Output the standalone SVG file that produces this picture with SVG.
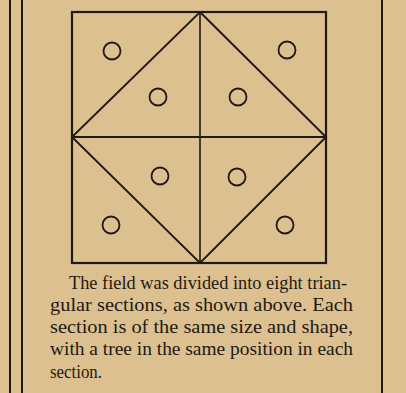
<svg xmlns="http://www.w3.org/2000/svg" width="406" height="393" viewBox="0 0 406 393">
<style>
.ln{stroke:#1f1a14;fill:none}
.tree{stroke:#1f1a14;stroke-width:1.8;fill:none}
.cap{font-family:"Liberation Serif",serif;font-size:19px;fill:#1f1a14}
</style>
<rect width="406" height="393" fill="#dcc08f"/>
<g id="rules">
<line class="ln" x1="10" y1="0" x2="10" y2="393" stroke-width="2"/>
<line class="ln" x1="22" y1="0" x2="22" y2="393" stroke-width="2"/>
<line class="ln" x1="382" y1="0" x2="382" y2="393" stroke-width="2"/>
</g>
<g id="connectors">
<rect class="ln" x="72" y="12" width="254" height="251" stroke-width="2.2"/>
<line class="ln" x1="72" y1="137" x2="326" y2="137" stroke-width="2"/>
<line class="ln" x1="200" y1="12" x2="200" y2="263" stroke-width="1.6"/>
<polygon class="ln" points="200,12 326,137 200,263 72,137" stroke-width="1.9"/>
</g>
<g id="trees">
<circle id="t1" class="tree" cx="112" cy="51" r="8.5"/>
<circle id="t2" class="tree" cx="158" cy="97" r="8.5"/>
<circle id="t3" class="tree" cx="238" cy="97" r="8.5"/>
<circle id="t4" class="tree" cx="287" cy="50" r="8.5"/>
<circle id="t5" class="tree" cx="160" cy="176" r="8.5"/>
<circle id="t6" class="tree" cx="237" cy="177" r="8.5"/>
<circle id="t7" class="tree" cx="111" cy="225" r="8.5"/>
<circle id="t8" class="tree" cx="285" cy="225" r="8.5"/>
</g>
<g id="caption" class="cap">
<text x="69" y="289" textLength="278" lengthAdjust="spacingAndGlyphs">The field was divided into eight trian-</text>
<text x="50" y="311" textLength="303" lengthAdjust="spacingAndGlyphs">gular sections, as shown above.  Each</text>
<text x="50" y="333" textLength="303" lengthAdjust="spacingAndGlyphs">section is of the same size and shape,</text>
<text x="50" y="355" textLength="303" lengthAdjust="spacingAndGlyphs">with a tree in the same position in each</text>
<text x="50" y="378" textLength="52" lengthAdjust="spacingAndGlyphs">section.</text>
</g>
</svg>
